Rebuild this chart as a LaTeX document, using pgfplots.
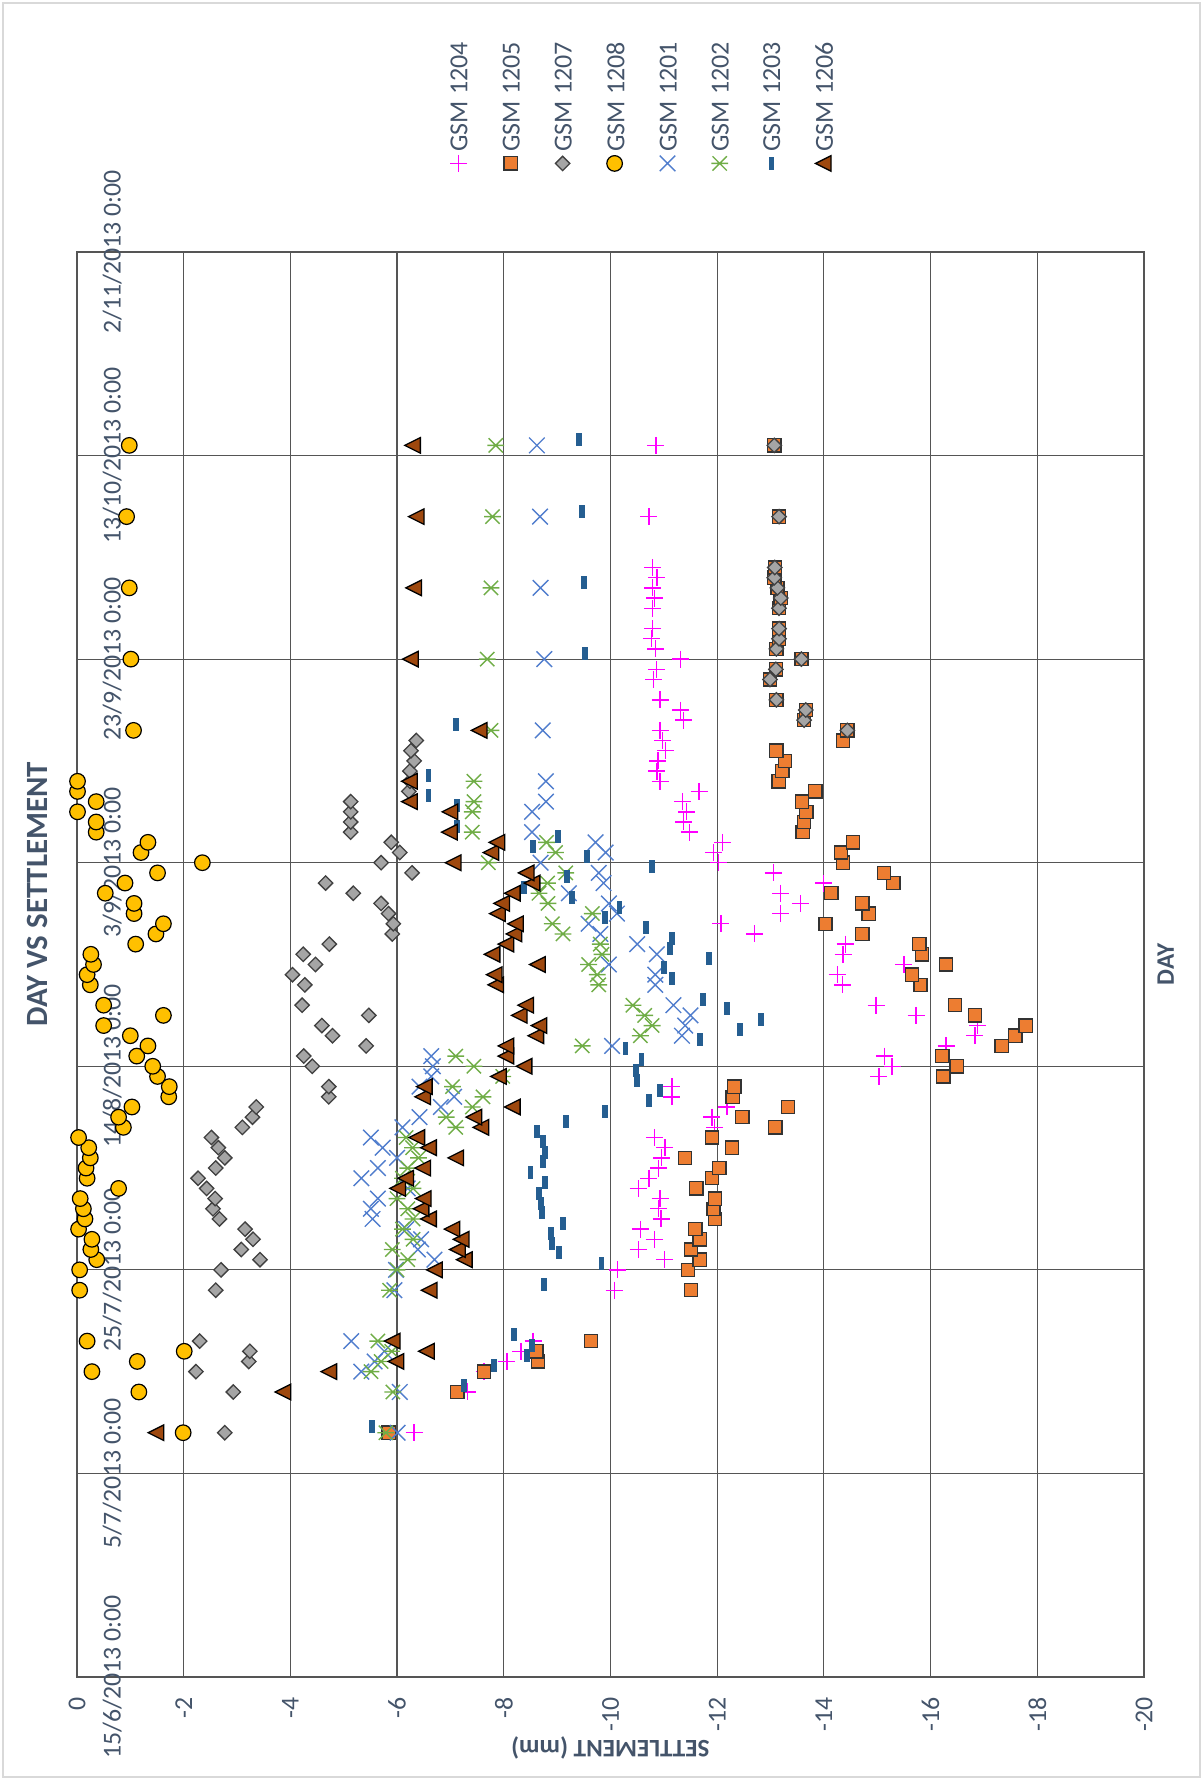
\documentclass[border=0pt]{standalone}
\usepackage{graphicx}
\usepackage{pgfplots}
\pgfplotsset{compat=1.18}
\usepackage{fontspec}
\setmainfont{Carlito}
\definecolor{textcol}{RGB}{68,84,106}
\definecolor{gridcol}{RGB}{85,85,85}
\definecolor{framecol}{RGB}{217,217,217}
\definecolor{c1204}{RGB}{255,0,255}
\definecolor{c1205}{RGB}{237,125,49}
\definecolor{c1207}{RGB}{165,165,165}
\definecolor{c1208}{RGB}{255,192,0}
\definecolor{c1201}{RGB}{80,125,205}
\definecolor{c1202}{RGB}{112,173,71}
\definecolor{c1203}{RGB}{37,94,145}
\definecolor{c1206}{RGB}{158,72,14}
\pgfdeclareplotmark{ltri}{%
  \pgfpathmoveto{\pgfqpoint{-\pgfplotmarksize}{0pt}}%
  \pgfpathlineto{\pgfqpoint{\pgfplotmarksize}{\pgfplotmarksize}}%
  \pgfpathlineto{\pgfqpoint{\pgfplotmarksize}{-\pgfplotmarksize}}%
  \pgfpathclose\pgfusepathqfillstroke}
\pgfdeclareplotmark{vbar}{%
  \pgfpathrectangle{\pgfqpoint{-0.45\pgfplotmarksize}{-\pgfplotmarksize}}{\pgfqpoint{0.9\pgfplotmarksize}{2\pgfplotmarksize}}%
  \pgfusepathqfill}
\pgfdeclareplotmark{xstar}{%
  \pgfpathmoveto{\pgfqpoint{-0.85\pgfplotmarksize}{-0.85\pgfplotmarksize}}%
  \pgfpathlineto{\pgfqpoint{0.85\pgfplotmarksize}{0.85\pgfplotmarksize}}%
  \pgfpathmoveto{\pgfqpoint{-0.85\pgfplotmarksize}{0.85\pgfplotmarksize}}%
  \pgfpathlineto{\pgfqpoint{0.85\pgfplotmarksize}{-0.85\pgfplotmarksize}}%
  \pgfpathmoveto{\pgfqpoint{-\pgfplotmarksize}{0pt}}%
  \pgfpathlineto{\pgfqpoint{\pgfplotmarksize}{0pt}}%
  \pgfusepathqstroke}
\pgfdeclareplotmark{sqdiamond}{%
  \pgfpathmoveto{\pgfqpoint{0pt}{\pgfplotmarksize}}%
  \pgfpathlineto{\pgfqpoint{\pgfplotmarksize}{0pt}}%
  \pgfpathlineto{\pgfqpoint{0pt}{-\pgfplotmarksize}}%
  \pgfpathlineto{\pgfqpoint{-\pgfplotmarksize}{0pt}}%
  \pgfpathclose\pgfusepathqfillstroke}
\pgfplotsset{
  leg/.style={legend image code/.code={\path (0pt,0pt); \draw[##1, overlay] plot coordinates {(12.72pt,-5.8pt)};}},
}
\newcommand{\rl}[1]{\rotatebox{90}{#1}}
\begin{document}
\begin{tikzpicture}
\path[use as bounding box] (0,0) rectangle (601.5pt,890pt);
\draw[color=framecol, line width=0.6pt] (1.5pt,1.5pt) rectangle (600pt,888.5pt);
\begin{axis}[
  at={(38.5pt,51.5pt)}, anchor=south west,
  scale only axis, width=533.5pt, height=712.5pt,
  xmin=-20, xmax=0, x dir=reverse, ymin=0, ymax=140,
  clip=false,
  xtick={-20,-18,...,0},
  xticklabels={-20,-18,-16,-14,-12,-10,-8,-6,-4,-2,0},
  ytick={0,20,40,60,80,100,120,140},
  yticklabels={15/6/2013 0:00,5/7/2013 0:00,25/7/2013 0:00,14/8/2013 0:00,3/9/2013 0:00,23/9/2013 0:00,13/10/2013 0:00,2/11/2013 0:00},
  grid=major,
  major grid style={draw=gridcol, line width=0.6pt},
  axis line style={draw=gridcol, line width=0.6pt},
  major tick length=0pt,
  tick style={draw=none},
  ticklabel style={font=\fontsize{12.9}{15}\selectfont, text=textcol},
  xticklabel style={rotate=90, anchor=east},
  xticklabel shift=6.5pt,
  yticklabel pos=left,
  yticklabel style={rotate=90, anchor=north},
  yticklabel shift=-9.3pt,
  title={DAY VS SETTLEMENT},
  title style={at={(axis description cs:-0.037,0.541)}, anchor=center, rotate=90, font=\bfseries\fontsize{15.45}{18}\selectfont, text=textcol},
  legend columns=-1,
  legend style={at={(axis description cs:0.3327,1.0695)}, anchor=south west, draw=none, fill=none, inner sep=0pt,
    font=\fontsize{13}{15}\selectfont, text=textcol,
    nodes={inner sep=0pt, text depth=0pt},
    cells={anchor=south west}, column sep=8.42pt},
]
% GSM 1204
\addplot[only marks, mark=+, mark size=4.25pt, draw=c1204, line width=0.7pt, leg] coordinates {
(-6.32,24) (-7.32,28) (-7.63,30) (-8.06,31) (-8.32,32) (-8.55,33) (-10.07,38) (-10.13,40) (-11.01,41) (-10.52,42) (-10.82,43) (-10.56,44) (-10.95,45) (-10.90,46) (-10.93,47) (-10.52,48) (-10.72,49) (-10.90,50) (-10.96,51) (-11.02,52) (-10.83,53) (-11.95,54) (-11.90,55) (-12.18,56) (-11.15,57) (-11.15,58) (-15.03,59) (-15.28,60) (-15.14,61) (-16.29,62) (-16.83,63) (-16.88,64) (-15.73,65) (-14.98,66) (-14.35,68) (-14.25,69) (-15.50,70) (-14.36,71) (-14.40,72) (-12.70,73) (-12.07,74) (-13.19,75) (-13.56,76) (-13.19,77) (-13.99,78) (-13.05,79) (-12.02,80) (-11.93,81) (-12.10,82) (-11.48,83) (-11.37,84) (-11.43,85) (-11.35,86) (-11.66,87) (-10.93,88) (-10.87,89) (-10.89,90) (-11.03,91) (-10.98,92) (-10.93,93) (-11.37,94) (-11.31,95) (-10.93,96) (-10.81,98) (-10.86,99) (-11.31,100) (-10.84,101) (-10.77,102) (-10.79,103) (-10.79,105) (-10.83,106) (-10.79,107) (-10.87,108) (-10.79,109) (-10.72,114) (-10.85,121)
};
% GSM 1205
\addplot[only marks, mark=square*, mark size=3.3pt, draw=black!80, fill=c1205, line width=0.65pt, leg] coordinates {
(-5.84,24) (-7.13,28) (-7.63,30) (-8.64,31) (-8.61,32) (-9.63,33) (-11.51,38) (-11.45,40) (-11.67,41) (-11.51,42) (-11.67,43) (-11.59,44) (-11.96,45) (-11.93,46) (-11.96,47) (-11.61,48) (-11.90,49) (-12.04,50) (-11.40,51) (-12.28,52) (-11.90,53) (-13.09,54) (-12.47,55) (-13.33,56) (-12.29,57) (-12.32,58) (-16.24,59) (-16.49,60) (-16.22,61) (-17.33,62) (-17.59,63) (-17.78,64) (-16.83,65) (-16.46,66) (-15.81,68) (-15.65,69) (-16.29,70) (-15.84,71) (-15.79,72) (-14.72,73) (-14.03,74) (-14.84,75) (-14.72,76) (-14.14,77) (-15.30,78) (-15.13,79) (-14.36,80) (-14.32,81) (-14.55,82) (-13.60,83) (-13.63,84) (-13.67,85) (-13.59,86) (-13.84,87) (-13.15,88) (-13.22,89) (-13.27,90) (-13.11,91) (-14.36,92) (-14.44,93) (-13.63,94) (-13.66,95) (-13.11,96) (-12.99,98) (-13.10,99) (-13.58,100) (-13.11,101) (-13.16,102) (-13.16,103) (-13.16,105) (-13.19,106) (-13.13,107) (-13.07,108) (-13.08,109) (-13.16,114) (-13.07,121)
};
% GSM 1207
\addplot[only marks, mark=sqdiamond, mark size=3.6pt, draw=black!75, fill=c1207, line width=0.65pt, leg] coordinates {
(-2.77,24) (-2.93,28) (-2.23,30) (-3.22,31) (-3.24,32) (-2.30,33) (-2.60,38) (-2.70,40) (-3.43,41) (-3.08,42) (-3.30,43) (-3.15,44) (-2.67,45) (-2.55,46) (-2.59,47) (-2.43,48) (-2.27,49) (-2.60,50) (-2.77,51) (-2.65,52) (-2.52,53) (-3.10,54) (-3.29,55) (-3.36,56) (-4.72,57) (-4.72,58) (-4.41,60) (-4.25,61) (-5.42,62) (-4.79,63) (-4.59,64) (-5.47,65) (-4.22,66) (-4.27,68) (-4.04,69) (-4.47,70) (-4.24,71) (-4.73,72) (-5.91,73) (-5.93,74) (-5.84,75) (-5.70,76) (-5.18,77) (-4.66,78) (-6.28,79) (-5.70,80) (-6.05,81) (-5.89,82) (-5.13,83) (-5.13,84) (-5.13,85) (-5.13,86) (-6.22,87) (-6.24,88) (-6.24,89) (-6.32,90) (-6.26,91) (-6.36,92) (-14.44,93) (-13.63,94) (-13.66,95) (-13.11,96) (-12.99,98) (-13.10,99) (-13.58,100) (-13.11,101) (-13.16,102) (-13.16,103) (-13.16,105) (-13.19,106) (-13.13,107) (-13.07,108) (-13.08,109) (-13.16,114) (-13.07,121)
};
% GSM 1208
\addplot[only marks, mark=*, mark size=3.9pt, draw=black, fill=c1208, line width=0.6pt, leg] coordinates {
(-1.99,24) (-1.16,28) (-0.28,30) (-1.13,31) (-2.01,32) (-0.19,33) (-0.05,38) (-0.05,40) (-0.37,41) (-0.26,42) (-0.28,43) (-0.03,44) (-0.15,45) (-0.12,46) (-0.06,47) (-0.78,48) (-0.19,49) (-0.17,50) (-0.25,51) (-0.22,52) (-0.03,53) (-0.87,54) (-0.78,55) (-1.03,56) (-1.72,57) (-1.73,58) (-1.51,59) (-1.42,60) (-1.12,61) (-1.33,62) (-1.00,63) (-0.50,64) (-1.62,65) (-0.50,66) (-0.25,68) (-0.19,69) (-0.31,70) (-0.26,71) (-1.10,72) (-1.48,73) (-1.62,74) (-1.07,75) (-1.07,76) (-0.53,77) (-0.90,78) (-1.51,79) (-2.35,80) (-1.20,81) (-1.33,82) (-0.36,83) (-0.36,84) (-0.01,85) (-0.36,86) (-0.01,87) (-0.01,88) (-1.06,93) (-1.01,100) (-0.98,107) (-0.93,114) (-0.98,121)
};
% GSM 1201
\addplot[only marks, mark=x, mark size=5.5pt, draw=c1201, line width=0.7pt, leg] coordinates {
(-6.01,24) (-6.05,28) (-5.33,30) (-5.58,31) (-5.76,32) (-5.14,33) (-5.95,38) (-5.98,40) (-6.70,41) (-6.39,42) (-6.45,43) (-6.17,44) (-5.54,45) (-5.51,46) (-5.64,47) (-6.20,48) (-5.33,49) (-5.64,50) (-6.00,51) (-5.73,52) (-5.51,53) (-6.10,54) (-6.42,55) (-6.82,56) (-7.07,57) (-6.42,58) (-6.64,59) (-6.67,60) (-6.64,61) (-10.03,62) (-11.34,63) (-11.40,64) (-11.50,65) (-11.18,66) (-10.84,68) (-10.84,69) (-9.97,70) (-10.87,71) (-10.50,72) (-9.81,73) (-9.59,74) (-10.12,75) (-9.97,76) (-9.22,77) (-9.87,78) (-9.78,79) (-8.69,80) (-9.91,81) (-9.72,82) (-8.53,83) (-8.53,85) (-8.79,86) (-8.79,88) (-8.73,93) (-8.76,100) (-8.69,107) (-8.68,114) (-8.62,121)
};
% GSM 1202
\addplot[only marks, mark=xstar, mark size=4.2pt, draw=c1202, line width=0.7pt, leg] coordinates {
(-5.79,24) (-5.92,28) (-5.51,30) (-5.70,31) (-5.90,32) (-5.64,33) (-5.86,38) (-6.00,40) (-6.20,41) (-5.91,42) (-6.30,43) (-6.10,44) (-6.30,45) (-6.20,46) (-6.00,47) (-6.30,48) (-6.10,49) (-6.20,50) (-6.40,51) (-6.29,52) (-6.17,53) (-7.10,54) (-6.92,55) (-7.41,56) (-7.61,57) (-7.04,58) (-7.98,59) (-7.44,60) (-7.10,61) (-9.47,62) (-10.56,63) (-10.78,64) (-10.64,65) (-10.42,66) (-9.78,68) (-9.75,69) (-9.59,70) (-9.84,71) (-9.81,72) (-9.11,73) (-8.91,74) (-9.66,75) (-8.83,76) (-8.66,77) (-8.82,78) (-9.16,79) (-7.71,80) (-8.97,81) (-8.80,82) (-7.41,83) (-7.41,85) (-7.44,86) (-7.44,88) (-7.76,93) (-7.69,100) (-7.76,107) (-7.79,114) (-7.85,121)
};
% GSM 1203
\addplot[only marks, mark=vbar, mark size=3.25pt, fill=c1203, draw=c1203, leg] coordinates {
(-5.53,24.6) (-7.26,28.6) (-7.81,30.6) (-8.43,31.6) (-8.53,32.6) (-8.19,33.6) (-8.75,38.6) (-9.83,40.6) (-9.03,41.7) (-8.90,42.6) (-8.89,43.6) (-9.11,44.6) (-8.72,45.6) (-8.69,46.5) (-8.66,47.5) (-8.77,48.6) (-8.50,49.6) (-8.73,50.6) (-8.77,51.5) (-8.73,52.6) (-8.62,53.6) (-9.17,54.6) (-9.89,55.6) (-10.72,56.6) (-10.93,57.6) (-10.50,58.6) (-10.48,59.6) (-10.58,60.7) (-10.28,61.7) (-11.68,62.6) (-12.43,63.6) (-12.82,64.6) (-12.18,65.7) (-11.73,66.6) (-11.16,68.6) (-11.01,69.7) (-11.84,70.6) (-11.12,71.6) (-11.16,72.6) (-10.67,73.6) (-9.89,74.6) (-10.17,75.6) (-9.28,76.6) (-8.38,77.6) (-9.18,78.6) (-10.78,79.6) (-9.56,80.6) (-8.55,81.6) (-9.02,82.6) (-7.13,83.6) (-7.13,85.6) (-6.59,86.6) (-6.59,88.6) (-7.10,93.6) (-9.53,100.6) (-9.50,107.5) (-9.46,114.5) (-9.41,121.6)
};
% GSM 1206
\addplot[only marks, mark=ltri, mark size=3.9pt, draw=black, fill=c1206, line width=0.65pt, leg] coordinates {
(-1.48,24) (-3.86,28) (-4.72,30) (-5.98,31) (-6.55,32) (-5.91,33) (-6.60,38) (-6.70,40) (-7.26,41) (-7.13,42) (-7.20,43) (-7.03,44) (-6.59,45) (-6.45,46) (-6.49,47) (-6.01,48) (-6.16,49) (-6.48,50) (-7.10,51) (-6.59,52) (-6.37,53) (-7.57,54) (-7.44,55) (-8.16,56) (-6.48,57) (-6.51,58) (-7.90,59) (-8.38,60) (-8.04,61) (-8.04,62) (-8.60,63) (-8.66,64) (-8.29,65) (-8.41,66) (-7.85,68) (-7.82,69) (-8.63,70) (-7.78,71) (-8.04,72) (-8.19,73) (-8.22,74) (-7.88,75) (-7.96,76) (-8.16,77) (-8.53,78) (-8.42,79) (-7.05,80) (-7.76,81) (-7.87,82) (-6.98,83) (-6.99,85) (-6.23,86) (-6.23,88) (-7.54,93) (-6.25,100) (-6.31,107) (-6.36,114) (-6.29,121)
};
\legend{\rl{GSM 1204},\rl{GSM 1205},\rl{GSM 1207},\rl{GSM 1208},\rl{GSM 1201},\rl{GSM 1202},\rl{GSM 1203},\rl{GSM 1206}}
\node[rotate=180, font=\bfseries\fontsize{12.6}{15}\selectfont, text=textcol] at (axis description cs:0.5,-0.0498) {SETTLEMENT (mm)};
\node[rotate=90, font=\bfseries\fontsize{12.6}{15}\selectfont, text=textcol] at (axis description cs:1.0203,0.5) {DAY};
\end{axis}
\end{tikzpicture}
\end{document}
